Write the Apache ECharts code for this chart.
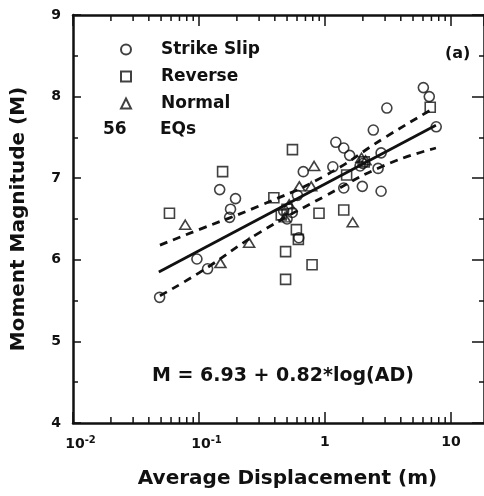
<!DOCTYPE html>
<html>
<head>
<meta charset="utf-8">
<script src="https://cdn.jsdelivr.net/npm/echarts@6/dist/echarts.min.js"></script>
<style>
  html, body { margin: 0; padding: 0; background: #fff; }
  #chart { width: 484px; height: 496px; }
</style>
</head>
<body>
<div id="chart"></div>
<script>
// average displacement (m), moment magnitude
const strikeSlip = [
  [0.146, 6.86], [0.195, 6.75], [0.178, 6.62], [0.175, 6.52], [0.0963, 6.01],
  [0.117, 5.89], [0.0487, 5.54], [6.04, 8.11], [6.73, 8.0], [7.64, 7.63],
  [3.1, 7.86], [2.42, 7.59], [1.22, 7.44], [1.41, 7.37], [1.57, 7.28],
  [2.79, 7.31], [2.64, 7.12], [0.673, 7.08], [1.155, 7.14], [0.604, 6.79],
  [1.41, 6.88], [1.98, 6.9], [2.79, 6.84], [0.62, 6.27], [0.47, 6.6],
  [0.55, 6.58], [0.5, 6.5], [2.0, 7.18], [1.9, 7.15]
]
const reverse = [
  [0.154, 7.08], [0.0583, 6.57], [0.487, 6.1], [0.487, 5.76], [0.552, 7.35],
  [0.393, 6.76], [6.85, 7.87], [1.486, 7.04], [0.897, 6.57], [1.41, 6.61],
  [0.593, 6.37], [0.615, 6.25], [0.79, 5.94], [0.45, 6.55], [0.5, 6.62],
  [2.05, 7.2]
]
const normal = [
  [0.0778, 6.43], [0.25, 6.21], [0.148, 5.96], [0.82, 7.15], [0.626, 6.9],
  [0.778, 6.9], [1.66, 6.46], [0.52, 6.68], [0.48, 6.52], [1.95, 7.25],
  [2.1, 7.22]
]
// regression M = 6.93 + 0.82*log(AD) and its confidence band
const fitLine = [[0.048, 5.85], [7.6, 7.65]]
const upperBand = [[0.049, 6.18], [0.1, 6.37], [0.3, 6.66], [1, 7.03], [3, 7.5], [7.0, 7.84]]
const lowerBand = [[0.049, 5.56], [0.1, 5.84], [0.3, 6.33], [1, 6.78], [3, 7.16], [7.6, 7.37]]
// log axis minor ticks
const minorTicks = [
  0.02, 0.03, 0.04, 0.05, 0.06, 0.07, 0.08, 0.09,
  0.2, 0.3, 0.4, 0.5, 0.6, 0.7, 0.8, 0.9,
  2, 3, 4, 5, 6, 7, 8, 9
]
const supLabels = { 0.01: '-2', 0.1: '-1' }

const FONT = 'DejaVu Sans'
const INK = '#111'

const chart = echarts.init(document.getElementById('chart'))

const markStyle = {
  color: 'rgba(0,0,0,0)',
  borderColor: INK,
  borderWidth: 1.6
}

const xBase = {
  type: 'log',
  logBase: 10,
  min: 0.01,
  max: 18.3,
  interval: 1,
  splitLine: { show: false },
  axisLine: { show: true, lineStyle: { color: INK, width: 2.5 } },
  axisTick: { inside: true, length: 11, lineStyle: { color: INK, width: 1.5 } },
  minorTick: { show: false }
}
const yBase = {
  type: 'value',
  min: 4,
  max: 9,
  interval: 1,
  splitLine: { show: false },
  axisLine: { show: true, lineStyle: { color: INK, width: 2.5 } },
  axisTick: { inside: true, length: 8, lineStyle: { color: INK, width: 1.5 } },
  minorTick: { show: true, splitNumber: 2, length: 5, lineStyle: { color: INK, width: 1.5 } }
}

const option = {
  animation: false,
  backgroundColor: '#fff',
  grid: { left: 73, top: 15, width: 418, height: 408 },
  legend: {
    orient: 'vertical',
    left: 115,
    top: 36,
    itemWidth: 10,
    itemHeight: 10,
    itemGap: 10,
    data: ['Strike Slip', 'Reverse', 'Normal'],
    textStyle: {
      fontFamily: FONT, fontSize: 17, fontWeight: 'bold', color: INK,
      padding: [0, 0, 0, 25]
    }
  },
  graphic: [
    { type: 'text', left: 103, top: 121, style: { text: '56', font: 'bold 17px "DejaVu Sans"', fill: INK } },
    { type: 'text', left: 160, top: 121, style: { text: 'EQs', font: 'bold 17px "DejaVu Sans"', fill: INK } },
    { type: 'text', left: 445, top: 46, style: { text: '(a)', font: 'bold 16px "DejaVu Sans"', fill: INK } },
    { type: 'text', left: 152, top: 367, style: { text: 'M = 6.93 + 0.82*log(AD)', font: 'bold 19px "DejaVu Sans"', fill: INK } }
  ],
  xAxis: [
    {
      ...xBase,
      position: 'bottom',
      name: 'Average Displacement (m)',
      nameLocation: 'middle',
      nameGap: 46,
      nameTextStyle: { fontFamily: FONT, fontSize: 20, fontWeight: 'bold', color: INK, padding: [0, 0, 0, 18] },
      axisLabel: {
        margin: 12,
        showMaxLabel: false,
        color: INK,
        fontFamily: FONT,
        fontSize: 14,
        fontWeight: 'bold',
        formatter: v => {
          const r = Math.round(v * 1000) / 1000
          if (supLabels[r]) return '{p|}10{s|' + supLabels[r] + '}'
          if (r === 1) return '1'
          if (r === 10) return '10'
          return ''
        },
        rich: {
          s: { fontFamily: FONT, fontSize: 10, fontWeight: 'bold', color: INK, verticalAlign: 'top', padding: [0, 0, 8, 0] },
          p: { width: 15 }
        }
      }
    },
    { ...xBase, position: 'top', axisLabel: { show: false } }
  ],
  yAxis: [
    {
      ...yBase,
      position: 'left',
      name: 'Moment Magnitude (M)',
      nameLocation: 'middle',
      nameGap: 44,
      nameTextStyle: { fontFamily: FONT, fontSize: 20, fontWeight: 'bold', color: INK },
      axisLabel: { margin: 12, color: INK, fontFamily: FONT, fontSize: 14, fontWeight: 'bold' }
    },
    { ...yBase, position: 'right', axisTick: { ...yBase.axisTick, length: 12 }, axisLabel: { show: false } }
  ],
  series: [
    {
      name: 'Strike Slip', type: 'scatter', symbol: 'circle', symbolSize: 10,
      itemStyle: markStyle, data: strikeSlip, z: 3
    },
    {
      name: 'Reverse', type: 'scatter', symbol: 'rect', symbolSize: 10,
      itemStyle: markStyle, data: reverse, z: 3
    },
    {
      name: 'Normal', type: 'scatter', symbol: 'triangle', symbolSize: [11, 9],
      itemStyle: markStyle, data: normal, z: 3
    },
    {
      name: 'fit', type: 'line', data: fitLine, symbol: 'none',
      lineStyle: { color: INK, width: 2.8 }
    },
    {
      name: 'upper', type: 'line', data: upperBand, symbol: 'none', smooth: true,
      lineStyle: { color: INK, width: 2.8, type: [8, 6] }
    },
    {
      name: 'lower', type: 'line', data: lowerBand, symbol: 'none', smooth: true,
      lineStyle: { color: INK, width: 2.8, type: [8, 6] }
    },
    {
      name: 'minor', type: 'custom', silent: true,
      data: minorTicks.map(v => [v, 4]),
      renderItem: (params, api) => {
        const v = api.value(0)
        const b = api.coord([v, 4])
        const t = api.coord([v, 9])
        const st = { stroke: INK, lineWidth: 1.5 }
        return {
          type: 'group',
          children: [
            { type: 'line', shape: { x1: b[0], y1: b[1], x2: b[0], y2: b[1] - 6 }, style: st },
            { type: 'line', shape: { x1: t[0], y1: t[1], x2: t[0], y2: t[1] + 6 }, style: st }
          ]
        }
      }
    }
  ]
}

chart.setOption(option)
</script>
</body>
</html>
